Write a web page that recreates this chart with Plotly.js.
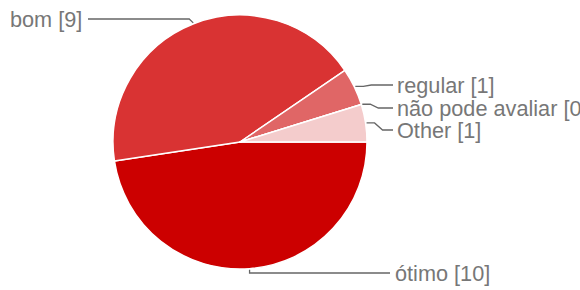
<!DOCTYPE html>
<html>
<head>
<meta charset="utf-8">
<script src="https://cdn.plot.ly/plotly-3.0.1.min.js"></script>
<style>html,body{margin:0;padding:0;background:#fff;}#chart{width:580px;height:290px;}</style>
</head>
<body>
<div id="chart"></div>
<script>
// Data
const categories = ["ótimo", "bom", "regular", "não pode avaliar", "Other"];
const counts = [10, 9, 1, 0, 1];
const sliceColors = ["#cc0000", "#d93333", "#e06666", "#ea9999", "#f4cccc"];

// Layout configuration (pixels)
const W = 580, H = 290;
const domX = [113 / W, 367 / W];
const domY = [21 / H, 275 / H];
// label placement: side, label y (px), anchor x (px)
const labelPlace = [
  {side: "bottom", y: 273, x: 393},
  {side: "left", y: 19, x: 84},
  {side: "right", y: 85, x: 395},
  {side: "right", y: 108, x: 395},
  {side: "right", y: 130, x: 395}
];

const cx = (domX[0] + domX[1]) / 2 * W;
const cy = H - (domY[0] + domY[1]) / 2 * H;
const r = Math.min((domX[1] - domX[0]) * W, (domY[1] - domY[0]) * H) / 2;
const total = counts.reduce((a, b) => a + b, 0);

const px = x => x / W;
const py = y => 1 - y / H;

const annotations = [];
const shapes = [];
let cum = 0;
categories.forEach((c, i) => {
  const mid = (cum + counts[i] / 2) / total * 2 * Math.PI;
  cum += counts[i];
  const ex = cx + (r + 1) * Math.cos(mid);
  const ey = cy + (r + 1) * Math.sin(mid);
  const lp = labelPlace[i];
  let path;
  if (lp.side === "bottom") {
    path = `M${px(ex)},${py(ey)} L${px(ex)},${py(lp.y)} L${px(lp.x - 3)},${py(lp.y)}`;
  } else if (lp.side === "left") {
    path = `M${px(ex)},${py(ey)} L${px(ex - 4)},${py(lp.y)} L${px(lp.x + 4)},${py(lp.y)}`;
  } else {
    path = `M${px(ex)},${py(ey)} L${px(ex + 8)},${py(ey)} L${px(ex + 16)},${py(lp.y)} L${px(lp.x - 2)},${py(lp.y)}`;
  }
  shapes.push({type: "path", xref: "paper", yref: "paper", path: path,
    line: {color: "#666666", width: 1.3}});
  annotations.push({
    xref: "paper", yref: "paper",
    x: px(lp.x), y: py(lp.y),
    xanchor: lp.side === "left" ? "right" : "left",
    yanchor: "middle",
    text: `${c} [${counts[i]}]`,
    showarrow: false,
    font: {family: "Liberation Sans, Arial, sans-serif", size: 21.7, color: "#777777"}
  });
});

const trace = {
  type: "pie",
  labels: categories,
  values: counts,
  sort: false,
  direction: "clockwise",
  rotation: 90,
  textinfo: "none",
  hoverinfo: "none",
  marker: {colors: sliceColors, line: {color: "#ffffff", width: 1.5}},
  domain: {x: domX, y: domY}
};

Plotly.newPlot("chart", [trace], {
  width: W, height: H,
  margin: {l: 0, r: 0, t: 0, b: 0},
  showlegend: false,
  paper_bgcolor: "#ffffff",
  annotations: annotations,
  shapes: shapes
}, {displayModeBar: false, staticPlot: true});
</script>
</body>
</html>
